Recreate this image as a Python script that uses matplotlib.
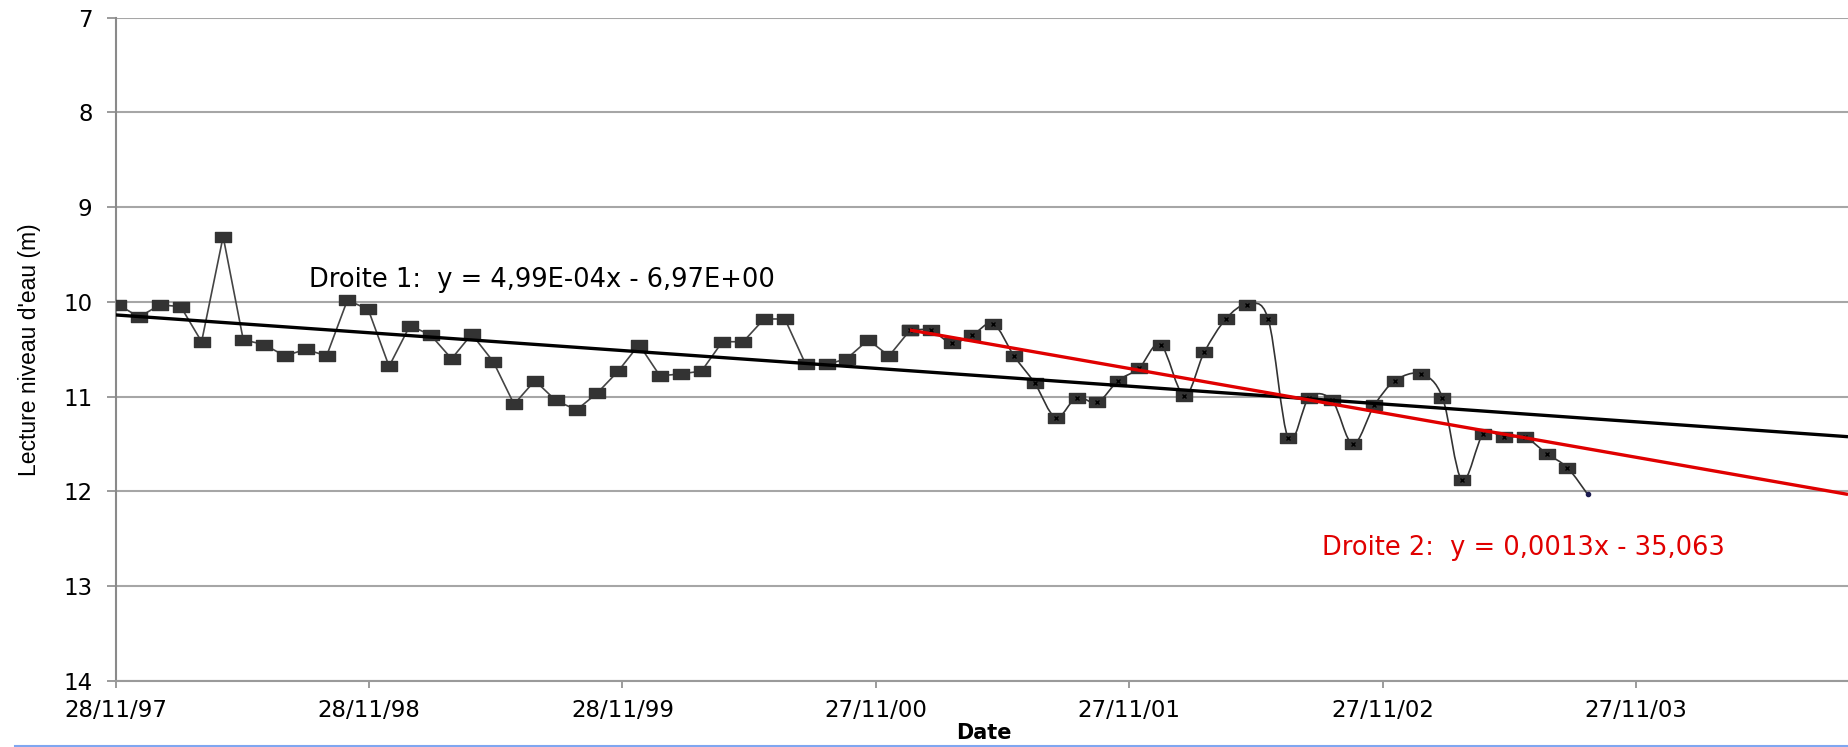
import numpy as np
import matplotlib
matplotlib.use("Agg")
import matplotlib.pyplot as plt
import matplotlib.dates as mdates
from matplotlib.path import Path
from matplotlib.patches import PathPatch
from matplotlib.lines import Line2D
from matplotlib.ticker import FixedLocator

# Relevés piézométriques : jours écoulés depuis le 28/11/1997 et niveau lu (m)
DEBUT = "1997-11-28"
JOURS = [4, 34, 64, 94, 124, 155, 184, 214, 244, 274,
         304, 334, 364, 394, 424, 454, 484, 513, 544, 574,
         604, 634, 664, 694, 724, 754, 784, 814, 844, 874,
         904, 934, 964, 994, 1024, 1053, 1084, 1114, 1144, 1174,
         1204, 1234, 1264, 1294, 1324, 1354, 1384, 1414, 1444, 1474,
         1505, 1539, 1568, 1599, 1629, 1660, 1689, 1719, 1752, 1782,
         1813, 1843, 1880, 1911, 1939, 1970, 2000, 2030, 2061, 2091,
         2120]
NIVEAU = [10.03, 10.16, 10.03, 10.05, 10.42, 9.31, 10.40, 10.45, 10.57, 10.50,
          10.57, 9.98, 10.08, 10.68, 10.25, 10.35, 10.60, 10.34, 10.63, 11.08,
          10.83, 11.04, 11.14, 10.96, 10.73, 10.45, 10.78, 10.76, 10.73, 10.42,
          10.42, 10.18, 10.18, 10.66, 10.66, 10.60, 10.40, 10.57, 10.30, 10.30,
          10.43, 10.35, 10.23, 10.57, 10.86, 11.22, 11.01, 11.06, 10.83, 10.70,
          10.45, 10.99, 10.53, 10.18, 10.03, 10.18, 11.44, 11.01, 11.04, 11.50,
          11.09, 10.83, 10.76, 11.01, 11.88, 11.39, 11.43, 11.43, 11.60, 11.75,
          12.03]
# index of the first reading used for the second regression (Droite 2)
DEBUT_DROITE2 = 38

LABEL_DROITE1 = "Droite 1:  y = 4,99E-04x - 6,97E+00"
LABEL_DROITE2 = "Droite 2:  y = 0,0013x - 35,063"
Y_TICKS = [7, 8, 9, 10, 11, 12, 13, 14]
PAS_DATES = 365          # major unit of the date axis (days)
N_DATES = 7
FIN_AXE = 2495           # days shown on the axis

GRIS = "#333333"
ROUGE = "#e00000"

t0 = mdates.date2num(np.datetime64(DEBUT))
x = t0 + np.asarray(JOURS, dtype=float)
y = np.asarray(NIVEAU, dtype=float)

fig = plt.figure(figsize=(18.48, 7.47), dpi=100)
fig.patch.set_facecolor("white")
ax = fig.add_axes([0.0625, 0.0884, 0.9375, 0.888])

ax.set_xlim(t0, t0 + FIN_AXE)
ax.set_ylim(max(Y_TICKS), min(Y_TICKS))
ax.set_yticks(Y_TICKS)
ax.xaxis.set_major_locator(FixedLocator([t0 + PAS_DATES * k for k in range(N_DATES)]))
ax.xaxis.set_major_formatter(mdates.DateFormatter("%d/%m/%y"))

ax.grid(axis="y", color="#a6a6a6", lw=1.5, zorder=0)
ax.grid(axis="x", visible=False)
for s in ("top", "right"):
    ax.spines[s].set_visible(False)
ax.spines["left"].set_color("#8a8a8a")
ax.spines["left"].set_linewidth(1.5)
ax.spines["bottom"].set_color("#9a9a9a")
ax.spines["bottom"].set_linewidth(1.5)

ax.tick_params(axis="y", length=6.5, width=1.2, color="#8a8a8a", pad=10,
               labelsize=16.5, labelcolor="black")
ax.tick_params(axis="x", length=5, width=1.2, color="#8a8a8a", pad=8,
               labelsize=16.5, labelcolor="black")
for lab in ax.get_xticklabels() + ax.get_yticklabels():
    lab.set_fontfamily("DejaVu Sans")
    lab.set_fontweight("medium")

# rectangular marker (wider than tall)
rect = Path([(-1.55, -1), (1.55, -1), (1.55, 1), (-1.55, 1), (-1.55, -1)],
            [Path.MOVETO, Path.LINETO, Path.LINETO, Path.LINETO, Path.CLOSEPOLY])

k = DEBUT_DROITE2
# first period: straight segments
ax.plot(x[:k + 1], y[:k + 1], color="#444444", lw=1.2, zorder=2)
ax.plot(x[:k + 1], y[:k + 1], ls="none", marker=rect, ms=12, color=GRIS,
        mec=GRIS, zorder=3)

# second period: smoothed curve (Bezier through the readings)
px, py = x[k:], y[k:]
n = len(px)
verts = [(px[0], py[0])]
codes = [Path.MOVETO]
for i in range(n - 1):
    i0 = max(i - 1, 0)
    i3 = min(i + 2, n - 1)
    c1 = (px[i] + (px[i + 1] - px[i0]) / 6.0, py[i] + (py[i + 1] - py[i0]) / 6.0)
    c2 = (px[i + 1] - (px[i3] - px[i]) / 6.0, py[i + 1] - (py[i3] - py[i]) / 6.0)
    verts += [c1, c2, (px[i + 1], py[i + 1])]
    codes += [Path.CURVE4, Path.CURVE4, Path.CURVE4]
ax.add_patch(PathPatch(Path(verts, codes), facecolor="none", edgecolor="#333333",
                       lw=1.2, zorder=2))
ax.plot(px[:-1], py[:-1], ls="none", marker=rect, ms=11, color=GRIS, mec=GRIS,
        zorder=3)
ax.plot(px[:-1], py[:-1], ls="none", marker="x", ms=3.5, mew=1.0, color="black",
        zorder=4)
ax.plot(px[-1:], py[-1:], ls="none", marker="o", ms=3, color="#1c1c50", zorder=4)

# linear regressions
a1, b1 = np.polyfit(x, y, 1)
xx1 = np.array([t0, t0 + FIN_AXE])
ax.plot(xx1, a1 * xx1 + b1, color="black", lw=2.4, zorder=5, solid_capstyle="butt")

a2, b2 = np.polyfit(px, py, 1)
xx2 = np.array([px[0], t0 + FIN_AXE])
ax.plot(xx2, a2 * xx2 + b2, color=ROUGE, lw=2.4, zorder=5, solid_capstyle="butt")

ax.text(0.1117, 0.6046, LABEL_DROITE1, transform=ax.transAxes, ha="left",
        va="center", fontsize=18.5, color="black", family="DejaVu Sans")
ax.text(0.6964, 0.2005, LABEL_DROITE2, transform=ax.transAxes, ha="left",
        va="center", fontsize=18.5, color=ROUGE, family="DejaVu Sans")

fig.text(0.016, 0.5315, "Lecture niveau d'eau (m)", rotation=90, ha="center",
         va="center", fontsize=16.5,
         family=["Liberation Sans Narrow", "Liberation Sans", "DejaVu Sans"])
fig.text(0.5325, 0.006, "Date", ha="center", va="bottom", fontsize=15,
         fontweight="bold", family="DejaVu Sans")

fig.add_artist(Line2D([0.008, 1.0], [0.0015, 0.0015], transform=fig.transFigure,
                      color="#7fa6f0", lw=1.5))

fig.savefig("out.png", dpi=100, facecolor="white")
